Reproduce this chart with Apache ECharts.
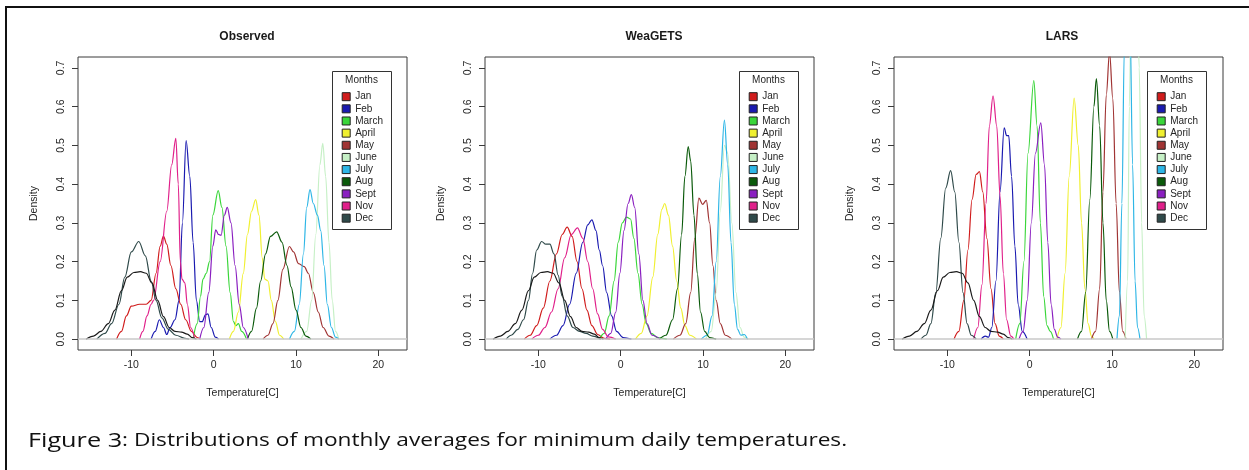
<!DOCTYPE html>
<html>
<head>
<meta charset="utf-8">
<script src="https://cdn.jsdelivr.net/npm/echarts@6/dist/echarts.min.js"></script>
<style>
html,body{margin:0;padding:0;background:#fff;}
#chart{width:1249px;height:470px;}
</style>
</head>
<body>
<div id="chart"></div>
<script>
// ---------- categories / labels ----------
const panelTitles = ['Observed', 'WeaGETS', 'LARS'];
const months = ['Jan','Feb','March','April','May','June','July','Aug','Sept','Nov','Dec'];
const monthColors = ['#d01c1c','#1a1ab0','#3ad63a','#f0f030','#a03434','#c6f0c6','#2eb6e6','#0a5a0a','#8a1fc0','#e0208a','#2f4a4a'];
const extraColor = '#1a1a1a';
const xTicks = [-10, 0, 10, 20];
const yTicks = [0, 0.1, 0.2, 0.3, 0.4, 0.5, 0.6, 0.7];
const captionHead = 'Figure 3';
const captionBody = ': Distributions of monthly averages for minimum daily temperatures.';

// ---------- common unlabelled black curve (same in all panels) ----------
const extraCurve = [[-15.5,0],[-14.6,0.008],[-13.7,0.02],[-12.8,0.04],[-12.0,0.075],[-11.2,0.125],[-10.5,0.16],[-9.7,0.172],[-8.9,0.174],[-8.2,0.17],[-7.5,0.145],[-6.8,0.1],[-6.1,0.058],[-5.4,0.03],[-4.7,0.02],[-3.9,0.018],[-3.2,0.013],[-2.6,0.004],[-2.1,0]];

// ---------- Observed ----------
const obsJan = [[-11.8,0],[-11.2,0.02],[-10.6,0.06],[-10.0,0.085],[-9.0,0.09],[-8.2,0.09],[-7.6,0.1],[-7.0,0.17],[-6.5,0.24],[-6.1,0.266],[-5.7,0.245],[-5.2,0.19],[-4.6,0.13],[-4.0,0.09],[-3.4,0.05],[-2.7,0.02],[-2.0,0.004],[-1.6,0]];
const obsFeb = [[-7.6,0],[-7.1,0.02],[-6.6,0.05],[-6.1,0.03],[-5.7,0.012],[-5.3,0.03],[-4.7,0.05],[-4.2,0.1],[-3.8,0.3],[-3.35,0.512],[-2.9,0.42],[-2.5,0.25],[-2.1,0.1],[-1.7,0.045],[-1.4,0.045],[-1.0,0.063],[-0.7,0.065],[-0.3,0.03],[0.2,0.005],[0.6,0]];
const obsMarch = [[-2.5,0],[-2.0,0.04],[-1.6,0.11],[-1.3,0.155],[-0.9,0.17],[-0.5,0.2],[-0.1,0.32],[0.55,0.383],[1.0,0.34],[1.5,0.24],[2.0,0.12],[2.4,0.045],[2.7,0.035],[3.0,0.04],[3.4,0.02],[4.0,0]];
const obsApril = [[1.9,0],[2.4,0.02],[3.0,0.07],[3.6,0.17],[4.1,0.27],[4.6,0.33],[5.1,0.36],[5.5,0.32],[5.9,0.21],[6.2,0.155],[6.6,0.15],[7.0,0.1],[7.5,0.045],[8.0,0.01],[8.5,0]];
const obsMay = [[6.0,0],[6.6,0.01],[7.2,0.04],[7.8,0.1],[8.4,0.18],[9.2,0.239],[9.7,0.225],[10.3,0.195],[11.0,0.187],[11.5,0.17],[12.1,0.12],[12.7,0.07],[13.3,0.03],[14.0,0.008],[14.6,0]];
const obsJune = [[10.6,0],[11.3,0.02],[11.9,0.1],[12.4,0.27],[12.9,0.45],[13.25,0.505],[13.6,0.42],[14.0,0.25],[14.4,0.1],[14.8,0.02],[15.2,0]];
const obsJuly = [[9.2,0],[9.8,0.02],[10.4,0.09],[10.9,0.22],[11.3,0.34],[11.7,0.386],[12.1,0.35],[12.6,0.32],[13.0,0.28],[13.4,0.19],[13.8,0.09],[14.3,0.03],[14.8,0.005],[15.2,0]];
const obsAug = [[4.1,0],[4.6,0.02],[5.2,0.08],[5.7,0.15],[6.3,0.22],[6.9,0.265],[7.65,0.277],[8.3,0.25],[8.9,0.19],[9.4,0.135],[10.0,0.075],[10.6,0.03],[11.2,0.008],[11.8,0]];
const obsSept = [[-1.7,0],[-1.2,0.03],[-0.6,0.12],[-0.1,0.24],[0.25,0.282],[0.6,0.27],[0.9,0.268],[1.3,0.32],[1.65,0.34],[2.1,0.3],[2.6,0.19],[3.1,0.09],[3.6,0.03],[4.2,0]];
const obsNov = [[-9.0,0],[-8.6,0.02],[-8.1,0.06],[-7.6,0.09],[-7.3,0.1],[-6.5,0.2],[-5.7,0.33],[-5.1,0.45],[-4.6,0.518],[-4.3,0.4],[-4.05,0.2],[-3.85,0.155],[-3.5,0.145],[-3.2,0.09],[-2.8,0.03],[-2.3,0]];
const obsDec = [[-14.2,0],[-13.2,0.015],[-12.4,0.04],[-11.5,0.09],[-10.8,0.16],[-10.0,0.225],[-9.1,0.252],[-8.3,0.215],[-7.6,0.15],[-7.0,0.1],[-6.3,0.055],[-5.5,0.025],[-4.6,0.01],[-3.5,0.002],[-3.0,0]];

// ---------- WeaGETS ----------
const weaJan = [[-11.7,0],[-11.0,0.01],[-10.2,0.035],[-9.4,0.08],[-8.6,0.15],[-7.8,0.22],[-7.1,0.27],[-6.5,0.289],[-5.9,0.265],[-5.3,0.2],[-4.7,0.13],[-4.1,0.075],[-3.5,0.035],[-2.8,0.012],[-2.0,0.002],[-1.3,0]];
const weaFeb = [[-8.6,0],[-7.8,0.01],[-7.0,0.035],[-6.2,0.09],[-5.4,0.17],[-4.6,0.25],[-4.0,0.295],[-3.5,0.308],[-3.0,0.28],[-2.6,0.23],[-2.2,0.19],[-1.7,0.12],[-1.1,0.06],[-0.5,0.02],[0.3,0.004],[1.3,0]];
const weaMarch = [[-2.6,0],[-2.0,0.015],[-1.4,0.06],[-0.8,0.15],[-0.3,0.25],[0.2,0.3],[0.7,0.315],[1.2,0.31],[1.6,0.26],[2.1,0.17],[2.6,0.09],[3.1,0.04],[3.7,0.015],[4.5,0.004],[5.6,0]];
const weaApril = [[1.8,0],[2.5,0.015],[3.2,0.06],[3.9,0.16],[4.5,0.27],[5.0,0.335],[5.35,0.35],[5.8,0.32],[6.3,0.24],[6.8,0.15],[7.3,0.08],[7.8,0.035],[8.4,0.01],[9.2,0]];
const weaMay = [[6.4,0],[7.2,0.01],[7.9,0.04],[8.5,0.12],[9.0,0.26],[9.5,0.364],[9.95,0.348],[10.4,0.358],[10.8,0.3],[11.2,0.19],[11.6,0.1],[12.1,0.04],[12.7,0.01],[13.5,0]];
const weaJune = [[10.3,0],[11.0,0.02],[11.6,0.12],[12.1,0.33],[12.6,0.5],[13.0,0.48],[13.5,0.3],[14.0,0.12],[14.5,0.03],[15.0,0.005],[15.5,0]];
const weaJuly = [[9.8,0],[10.5,0.01],[11.1,0.06],[11.6,0.2],[12.1,0.42],[12.6,0.565],[13.0,0.45],[13.4,0.25],[13.8,0.09],[14.2,0.025],[14.6,0.01],[15.0,0.012],[15.4,0]];
const weaAug = [[4.7,0],[5.5,0.01],[6.3,0.05],[6.9,0.13],[7.4,0.27],[7.8,0.42],[8.2,0.497],[8.5,0.46],[8.9,0.32],[9.3,0.17],[9.7,0.07],[10.2,0.02],[10.8,0.004],[11.6,0]];
const weaSept = [[-1.8,0],[-1.2,0.015],[-0.6,0.07],[-0.1,0.17],[0.4,0.28],[0.9,0.35],[1.3,0.373],[1.7,0.34],[2.2,0.22],[2.7,0.1],[3.2,0.04],[3.8,0.01],[4.8,0]];
const weaNov = [[-10.8,0],[-10.0,0.01],[-9.2,0.03],[-8.4,0.07],[-7.6,0.13],[-6.8,0.21],[-6.0,0.27],[-5.25,0.287],[-4.6,0.26],[-4.0,0.2],[-3.4,0.13],[-2.8,0.065],[-2.2,0.025],[-1.5,0.006],[-0.6,0]];
const weaDec = [[-13.9,0],[-13.3,0.01],[-12.5,0.025],[-11.8,0.05],[-11.2,0.1],[-10.7,0.17],[-10.2,0.23],[-9.6,0.252],[-9.1,0.245],[-8.6,0.245],[-8.1,0.22],[-7.6,0.165],[-7.1,0.11],[-6.5,0.06],[-5.8,0.03],[-5.0,0.02],[-4.2,0.015],[-3.4,0.008],[-2.4,0]];

// ---------- LARS ----------
const larsJan = [[-9.2,0],[-8.6,0.02],[-8.0,0.1],[-7.5,0.23],[-7.0,0.36],[-6.5,0.425],[-6.1,0.432],[-5.7,0.38],[-5.2,0.26],[-4.7,0.13],[-4.2,0.04],[-3.7,0.008],[-3.2,0]];
const larsFeb = [[-5.9,0],[-5.4,0.008],[-5.0,0.005],[-4.6,0.03],[-4.1,0.15],[-3.6,0.38],[-3.1,0.545],[-2.8,0.525],[-2.55,0.525],[-2.2,0.42],[-1.8,0.24],[-1.4,0.09],[-0.9,0.02],[-0.3,0]];
const larsMarch = [[-1.7,0],[-1.2,0.04],[-0.7,0.2],[-0.2,0.48],[0.5,0.667],[0.9,0.55],[1.3,0.3],[1.7,0.11],[2.1,0.035],[2.5,0.02],[2.9,0]];
const larsApril = [[3.3,0],[3.8,0.03],[4.3,0.17],[4.8,0.42],[5.4,0.622],[5.9,0.5],[6.3,0.3],[6.7,0.13],[7.1,0.04],[7.5,0.008],[7.8,0]];
const larsMay = [[7.5,0],[8.0,0.02],[8.5,0.13],[8.9,0.38],[9.3,0.63],[9.7,0.74],[10.1,0.62],[10.5,0.35],[10.9,0.12],[11.3,0.02],[11.7,0]];
const larsJune = [[11.6,0],[11.9,0.15],[12.1,0.6],[12.4,1.0],[12.7,1.1],[13.0,1.0],[13.3,0.7],[13.6,0.3],[13.9,0.06],[14.2,0]];
const larsJuly = [[10.6,0],[10.9,0.06],[11.2,0.35],[11.5,0.75],[11.85,0.95],[12.2,0.8],[12.5,0.45],[12.8,0.15],[13.1,0.03],[13.4,0]];
const larsAug = [[5.8,0],[6.3,0.02],[6.8,0.12],[7.3,0.36],[7.8,0.6],[8.1,0.672],[8.5,0.55],[8.9,0.3],[9.3,0.1],[9.7,0.02],[10.1,0]];
const larsSept = [[-1.3,0],[-0.8,0.02],[-0.3,0.1],[0.2,0.3],[0.7,0.48],[1.35,0.558],[1.8,0.45],[2.2,0.25],[2.6,0.09],[3.0,0.025],[3.4,0.005],[3.8,0]];
const larsNov = [[-6.8,0],[-6.3,0.03],[-5.8,0.14],[-5.3,0.35],[-4.9,0.55],[-4.45,0.628],[-4.0,0.55],[-3.6,0.37],[-3.2,0.17],[-2.8,0.05],[-2.3,0.008],[-1.9,0]];
const larsDec = [[-13.2,0],[-12.6,0.01],[-12.0,0.04],[-11.4,0.12],[-10.8,0.26],[-10.2,0.39],[-9.6,0.435],[-9.1,0.38],[-8.6,0.25],[-8.1,0.12],[-7.6,0.04],[-7.1,0.01],[-6.5,0]];

const panelCurves = [
  [obsJan, obsFeb, obsMarch, obsApril, obsMay, obsJune, obsJuly, obsAug, obsSept, obsNov, obsDec],
  [weaJan, weaFeb, weaMarch, weaApril, weaMay, weaJune, weaJuly, weaAug, weaSept, weaNov, weaDec],
  [larsJan, larsFeb, larsMarch, larsApril, larsMay, larsJune, larsJuly, larsAug, larsSept, larsNov, larsDec]
];

// ---------- layout ----------
const gridLefts = [78, 485, 894];
const gridTop = 57, gridW = 329, gridH = 293;
const titleCenters = [242, 649, 1057];
const legendBoxLefts = [332, 739, 1147];
const font = 'Liberation Sans, Arial, sans-serif';
const textCol = '#262626';

const grids = [], xAxes = [], yAxes = [], series = [], titles = [], legends = [], graphics = [];

for (let p = 0; p < 3; p++) {
  grids.push({left: gridLefts[p], top: gridTop, width: gridW, height: gridH,
    show: true, borderColor: '#3a3a3a', borderWidth: 1, backgroundColor: 'transparent', containLabel: false});
  xAxes.push({type: 'value', gridIndex: p, min: -16.48, max: 23.48, position: 'bottom',
    axisLine: {show: false, onZero: false}, splitLine: {show: false},
    axisTick: {show: true, length: 6, customValues: xTicks, lineStyle: {color: '#3a3a3a'}},
    axisLabel: {customValues: xTicks, margin: 10, fontSize: 10.5, color: textCol, fontFamily: font},
    name: 'Temperature[C]', nameLocation: 'middle', nameGap: 38,
    nameTextStyle: {fontSize: 10.5, color: textCol, fontFamily: font}});
  yAxes.push({type: 'value', gridIndex: p, min: -0.028, max: 0.728, position: 'left',
    axisLine: {show: false, onZero: false}, splitLine: {show: false},
    axisTick: {show: true, length: 6, customValues: yTicks, lineStyle: {color: '#3a3a3a'}},
    axisLabel: {customValues: yTicks, rotate: 90, margin: 11, fontSize: 10.5, color: textCol, fontFamily: font,
      formatter: v => v.toFixed(1)},
    name: 'Density', nameLocation: 'middle', nameGap: 38, nameRotate: 90,
    nameTextStyle: {fontSize: 10.5, color: textCol, fontFamily: font}});
  titles.push({text: panelTitles[p], left: titleCenters[p], top: 26, textAlign: 'center',
    textStyle: {fontSize: 12, fontWeight: 'bold', color: '#1a1a1a', fontFamily: font}});

  panelCurves[p].forEach((curve, i) => {
    const s = {type: 'line', name: months[i], xAxisIndex: p, yAxisIndex: p, data: curve,
      showSymbol: false, symbol: 'none', smooth: 0.35, smoothMonotone: 'x', clip: true,
      color: monthColors[i], lineStyle: {color: monthColors[i], width: 1.2}, z: 3, silent: true};
    if (i === 0) {
      s.markLine = {silent: true, symbol: 'none', label: {show: false}, animation: false,
        lineStyle: {color: '#c8c8c8', width: 1.5, type: 'solid'}, data: [{yAxis: 0}]};
    }
    series.push(s);
  });
  series.push({type: 'line', name: 'unlabelled', xAxisIndex: p, yAxisIndex: p, data: extraCurve,
    showSymbol: false, symbol: 'none', smooth: 0.35, smoothMonotone: 'x', clip: true,
    color: extraColor, lineStyle: {color: extraColor, width: 1.2}, z: 3, silent: true});

  legends.push({orient: 'vertical', left: legendBoxLefts[p] + 9.7, top: 90.6, padding: 0,
    itemWidth: 8, itemHeight: 8, itemGap: 0, itemTextGap: 7.5, selectedMode: false,
    icon: 'rect', itemStyle: {borderColor: '#222', borderWidth: 1},
    textStyle: {fontSize: 10, lineHeight: 12.15, color: textCol, fontFamily: font},
    data: months.map(m => ({name: m, icon: 'rect'})), z: 10});
  graphics.push({type: 'rect', z: 5, shape: {x: legendBoxLefts[p] + 0.5, y: 71.5, width: 59, height: 158},
    style: {fill: '#fff', stroke: '#333', lineWidth: 1}});
  graphics.push({type: 'text', z: 6, x: legendBoxLefts[p] + 29.5, y: 80,
    style: {text: 'Months', fontSize: 10, fill: textCol, fontFamily: font, align: 'center', verticalAlign: 'middle'}});
}

// outer frame and caption
graphics.push({type: 'rect', z: 1, shape: {x: 6, y: 7, width: 1300, height: 520},
  style: {fill: 'none', stroke: '#111', lineWidth: 2}});
graphics.push({type: 'text', z: 6, x: 28, y: 451, scaleX: 1.295, scaleY: 1, originX: 0, originY: 0,
  style: {text: '{a|' + captionHead + '}{b|' + captionBody + '}', verticalAlign: 'bottom', align: 'left',
    rich: {a: {fontSize: 19.5, fontFamily: 'Open Sans, sans-serif', fill: '#111'},
           b: {fontSize: 17.5, fontFamily: 'Open Sans, sans-serif', fill: '#111'}}}});

const chart = echarts.init(document.getElementById('chart'), null, {renderer: 'canvas'});
chart.setOption({
  animation: false,
  backgroundColor: '#fff',
  title: titles,
  grid: grids,
  xAxis: xAxes,
  yAxis: yAxes,
  legend: legends,
  series: series,
  graphic: {elements: graphics}
});
</script>
</body>
</html>
